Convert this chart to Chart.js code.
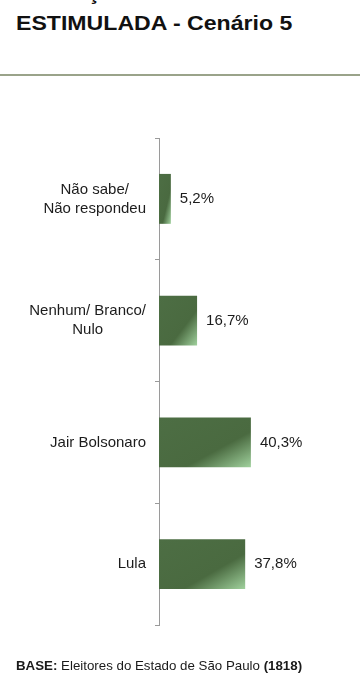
<!DOCTYPE html>
<html>
<head>
<meta charset="utf-8">
<script src="https://cdn.jsdelivr.net/npm/chart.js@4/dist/chart.umd.min.js"></script>
<style>
  body{margin:0;background:#fff;font-family:"Liberation Sans",Arial,sans-serif;color:#111;}
  #wrap{position:relative;width:360px;height:687px;overflow:hidden;}
  .t{position:absolute;left:16px;font-weight:bold;font-size:21px;white-space:nowrap;line-height:1;transform:scaleX(1.1);transform-origin:left top;}
  #cut{top:-18px;}
  #title{top:11.5px;}
  #rule{position:absolute;left:0;top:74px;width:360px;height:2px;background:#9aa38a;}
  #base{position:absolute;left:16px;top:659px;font-size:13.3px;white-space:nowrap;color:#1a1a1a;line-height:1;}
  canvas{position:absolute;left:0;top:0;}
</style>
</head>
<body>
<div id="wrap">
  <div class="t" id="cut">INTENÇÃO DE VOTO</div>
  <div class="t" id="title">ESTIMULADA - Cenário 5</div>
  <div id="rule"></div>
  <canvas id="chart" width="360" height="687"></canvas>
  <div id="base"><b>BASE:</b> Eleitores do Estado de São Paulo <b>(1818)</b></div>
</div>
<script>
const categories = [['Não sabe/', 'Não respondeu'], ['Nenhum/ Branco/', 'Nulo'], ['Jair Bolsonaro'], ['Lula']];
const values = [5.2, 16.7, 40.3, 37.8];
const xMax = 50;

const FONT = '15px "Liberation Sans", Arial, sans-serif';

// diagonal gradient per bar, light corner at bottom right
const barGradient = {
  id: 'barGradient',
  beforeDatasetsDraw(chart) {
    const ctx = chart.ctx;
    for (const el of chart.getDatasetMeta(0).data) {
      const x0 = el.base, y0 = el.y - el.height / 2;
      const w = el.x - el.base, h = el.height;
      const k = 2 * w * h / (w * w + h * h);
      const g = ctx.createLinearGradient(x0, y0, x0 + h * k, y0 + w * k);
      g.addColorStop(0, '#4d6e44');
      g.addColorStop(0.64, '#4a6a40');
      g.addColorStop(1, '#a0d19d');
      el.options = Object.assign({}, el.options, { backgroundColor: g });
    }
  }
};

const labels = {
  id: 'labels',
  afterDatasetsDraw(chart) {
    const ctx = chart.ctx;
    const meta = chart.getDatasetMeta(0);
    ctx.save();
    ctx.font = FONT;
    ctx.fillStyle = '#1c1c1c';
    ctx.textBaseline = 'middle';
    meta.data.forEach((el, i) => {
      ctx.textAlign = 'left';
      ctx.fillText(values[i].toFixed(1).replace('.', ',') + '%', el.x + 9, el.y);
      // category text: block right aligned, lines centred inside it
      const lines = categories[i];
      const maxW = Math.max(...lines.map(l => ctx.measureText(l).width));
      const cx = 146 - maxW / 2;
      const lh = 19;
      const y = chart.scales.y.getPixelForValue(i);
      ctx.textAlign = 'center';
      lines.forEach((l, j) => ctx.fillText(l, cx, y + (j - (lines.length - 1) / 2) * lh));
    });
    ctx.restore();
  }
};

new Chart(document.getElementById('chart'), {
  type: 'bar',
  data: {
    labels: categories,
    datasets: [{ data: values, backgroundColor: '#4a6a40', borderWidth: 0, barPercentage: 0.41, categoryPercentage: 1 }]
  },
  options: {
    indexAxis: 'y',
    responsive: false,
    animation: false,
    layout: { padding: { top: 138, bottom: 62, left: 0, right: 87 } },
    plugins: { legend: { display: false }, tooltip: { enabled: false } },
    scales: {
      x: { display: false, min: 0, max: xMax },
      y: {
        afterFit: s => { s.width = 159; },
        ticks: { display: false },
        grid: { offset: true, drawOnChartArea: false, drawTicks: true, tickLength: 4, color: '#9a9a9a' },
        border: { display: true, color: '#9a9a9a', width: 1 }
      }
    }
  },
  plugins: [barGradient, labels]
});
</script>
</body>
</html>
